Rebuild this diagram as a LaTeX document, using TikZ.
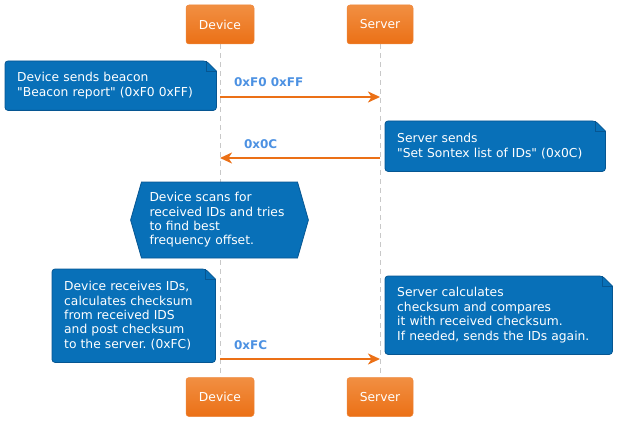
\documentclass[tikz,border=0pt]{standalone}
\usepackage{fontspec}
\newfontfamily\dejavu{DejaVu Sans}
\usetikzlibrary{arrows.meta, shapes.symbols, backgrounds, positioning}
\frenchspacing

\definecolor{partbot}{RGB}{235,112,22}
\definecolor{parttop}{RGB}{241,143,66}
\definecolor{notefill}{RGB}{8,112,184}
\definecolor{noteline}{RGB}{6,86,146}
\definecolor{msgblue}{RGB}{76,145,226}
\definecolor{lifegray}{RGB}{200,200,200}

\newcommand{\txt}{\dejavu\fontsize{12.3}{14.4}\selectfont}
\newcommand{\notefold}[1]{
    \path[draw=noteline, fill=notefill, line width=.8pt]
      ([xshift=-10pt]#1.north east) -- ([yshift=-10pt]#1.north east)
      [rounded corners=3pt] -- (#1.south east) -- (#1.south west) -- (#1.north west) -- cycle;
    \draw[noteline, line width=.8pt] ([xshift=-10pt]#1.north east) -- ++(0,-10pt) -- ([yshift=-10pt]#1.north east);
}

\tikzset{
    part/.style={rounded corners=3pt, top color=parttop, bottom color=partbot, draw=partbot!85!white,
        line width=.5pt, text=white, minimum width=68, minimum height=39, font=\txt},
    note/.style={anchor=north west, text=white, align=left, inner xsep=12, inner ysep=0, font=\txt},
    scanbox/.style={signal, signal to=west and east, signal pointer angle=148, fill=notefill, draw=noteline,
        line width=.8pt, text=white, align=left, text width=140, inner xsep=8, minimum height=76, font=\txt},
    msg/.style={draw=partbot, line width=2pt, -{Stealth[length=12pt,width=11pt,inset=3.5pt]}},
    lbl/.style={text=msgblue, anchor=base west, inner sep=0, yshift=10pt, font=\dejavu\bfseries\fontsize{12}{14}\selectfont},
    life/.style={draw=lifegray, line width=.8pt, dash pattern=on 5pt off 4pt}
}

\begin{document}
\begin{tikzpicture}[x=1pt, y=-1pt]
    \useasboundingbox (0,0) rectangle (617,422);
    \node (devTop) at (220,24.5)[part] {Device};
    \node (srvTop) at (380,24.5)[part, minimum width=66] {Server};
    \node (devBot) at (220,397)[part] {Device};
    \node (srvBot) at (380,397)[part, minimum width=66] {Server};

    \node (beacon) at (5,61)[note, text width=187, minimum height=49] {Device sends beacon\\"Beacon report" (0xF0 0xFF)};
    \node (setids) at (385,121)[note, text width=196, minimum height=50] {Server sends\\"Set Sontex list of IDs" (0x0C)};
    \node (scan) at (219.5,220)[scanbox] {Device scans for\\received IDs and tries\\to find best\\frequency offset.};
    \node (devsum) at (52,269)[note, text width=139, minimum height=93] {Device receives IDs,\\calculates checksum\\from received IDS\\and post checksum\\to the server. (0xFC)};
    \node (srvsum) at (385,276)[note, text width=203, minimum height=78] {Server calculates\\checksum and compares\\it with received checksum.\\If needed, sends the IDs again.};

    \begin{scope}[on background layer]
    \draw[life] (devTop) -- (devBot);
    \draw[life] (srvTop) -- (srvBot);
    \notefold{beacon}
    \notefold{setids}
    \notefold{devsum}
    \notefold{srvsum}
    \end{scope}

    \coordinate (d1) at (220,97);  \coordinate (s1) at (380,97);
    \coordinate (d2) at (220,158); \coordinate (s2) at (380,158);
    \coordinate (d3) at (220,359); \coordinate (s3) at (380,359);
    \draw[msg] (d1) -- (s1) node[lbl, pos=0, xshift=13] {0xF0 0xFF};
    \draw[msg] (s2) -- (d2) node[lbl, pos=1, xshift=23] {0x0C};
    \draw[msg] (d3) -- (s3) node[lbl, pos=0, xshift=13] {0xFC};
\end{tikzpicture}
\end{document}
